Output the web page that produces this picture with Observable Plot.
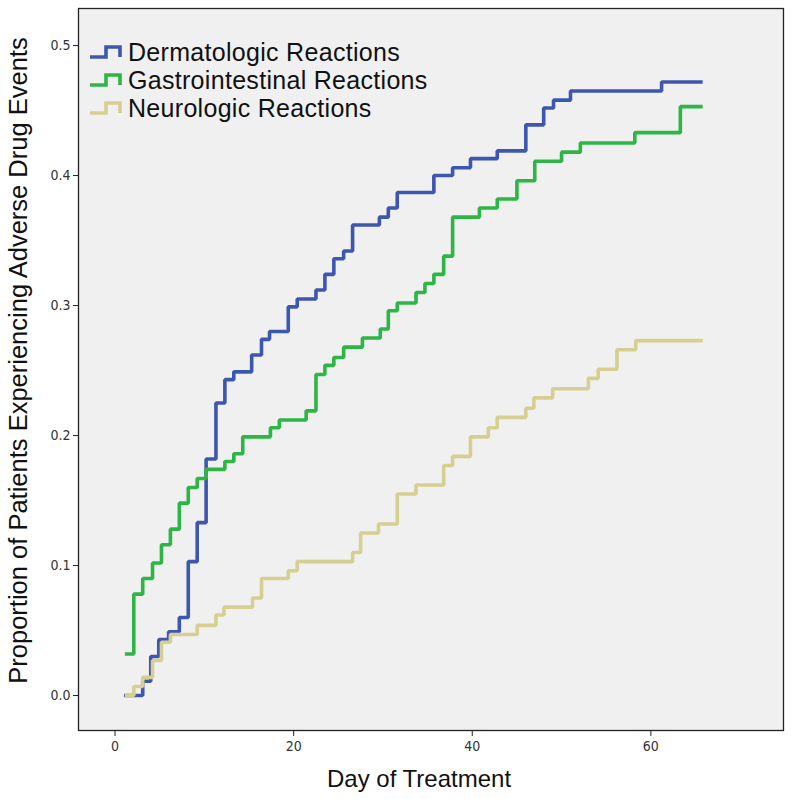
<!DOCTYPE html>
<html><head><meta charset="utf-8">
<script src="https://cdn.jsdelivr.net/npm/d3@7"></script>
<script src="https://cdn.jsdelivr.net/npm/@observablehq/plot@0.6"></script>
<style>
body{margin:0;background:#fff;}
#wrap{position:relative;width:797px;height:799px;}
#legend{position:absolute;left:88px;top:38px;font-family:Arial,"Liberation Sans",sans-serif;font-size:25px;letter-spacing:0.3px;color:#111;}
#legend .row{display:flex;align-items:center;height:28px;white-space:nowrap;}
#legend svg{margin-right:6px;}
</style></head><body><div id="wrap"><div id="legend"></div></div>
<script>
const seriesNames = ["Dermatologic Reactions", "Gastrointestinal Reactions", "Neurologic Reactions"];
const seriesColors = ["#3e57ae", "#2db546", "#d5cf90"];
const endDay = 65.8;

const dermDays = [1.0, 3.1, 4.0, 4.9, 6.0, 7.2, 8.2, 9.2, 10.2, 11.3, 12.3, 13.3, 15.3, 16.4, 17.3, 19.4, 20.4, 22.5, 23.5, 24.5, 25.6, 26.6, 29.6, 30.6, 31.6, 35.7, 37.8, 39.8, 42.8, 46.0, 48.0, 49.1, 51.0, 61.2];
const dermVals = [0.0, 0.011, 0.030, 0.043, 0.049, 0.060, 0.103, 0.133, 0.182, 0.225, 0.243, 0.249, 0.262, 0.274, 0.280, 0.299, 0.305, 0.312, 0.324, 0.336, 0.342, 0.362, 0.368, 0.375, 0.387, 0.400, 0.406, 0.413, 0.419, 0.439, 0.452, 0.458, 0.465, 0.472];

const gastroDays = [1.1, 2.1, 3.1, 4.2, 5.2, 6.2, 7.2, 8.2, 9.2, 10.2, 12.3, 13.3, 14.3, 17.4, 18.4, 21.4, 22.5, 23.5, 24.5, 25.6, 27.7, 29.7, 30.6, 31.6, 33.7, 34.7, 35.7, 36.8, 37.8, 40.8, 42.8, 45.0, 47.0, 50.0, 52.1, 58.2, 63.3];
const gastroVals = [0.032, 0.078, 0.090, 0.102, 0.116, 0.128, 0.148, 0.160, 0.167, 0.174, 0.180, 0.186, 0.199, 0.206, 0.212, 0.219, 0.247, 0.254, 0.260, 0.268, 0.275, 0.282, 0.296, 0.302, 0.310, 0.317, 0.324, 0.338, 0.368, 0.375, 0.382, 0.396, 0.411, 0.418, 0.425, 0.433, 0.453];

const neuroDays = [1.1, 2.1, 3.1, 4.2, 5.2, 6.2, 9.2, 11.3, 12.2, 15.4, 16.4, 19.4, 20.4, 26.6, 27.5, 29.5, 31.6, 33.7, 36.8, 37.8, 39.8, 41.8, 42.8, 46.0, 46.9, 49.0, 53.0, 54.1, 56.2, 58.3];
const neuroVals = [0.0, 0.007, 0.014, 0.027, 0.041, 0.047, 0.054, 0.062, 0.068, 0.075, 0.090, 0.096, 0.103, 0.110, 0.125, 0.132, 0.155, 0.162, 0.177, 0.184, 0.199, 0.206, 0.214, 0.221, 0.229, 0.236, 0.244, 0.251, 0.266, 0.273];

const xTicks = [0, 20, 40, 60];
const yTicks = [0.0, 0.1, 0.2, 0.3, 0.4, 0.5];
const xTitle = "Day of Treatment";
const yTitle = "Proportion of Patients Experiencing Adverse Drug Events";

function build(name, days, vals) {
  const rows = days.map((d, i) => ({series: name, day: d, value: vals[i]}));
  rows.push({series: name, day: endDay, value: vals[vals.length - 1]});
  return rows;
}
const rows = [
  ...build(seriesNames[0], dermDays, dermVals),
  ...build(seriesNames[1], gastroDays, gastroVals),
  ...build(seriesNames[2], neuroDays, neuroVals)
];

const tickFont = "'Liberation Sans Narrow', 'Arial Narrow', 'DejaVu Sans Condensed', Arial, sans-serif";
const titleFont = "Arial, 'Liberation Sans', sans-serif";

const chart = Plot.plot({
  width: 797, height: 799,
  marginLeft: 78, marginRight: 14, marginTop: 8, marginBottom: 69,
  style: {background: "white", fontFamily: tickFont, fontSize: "14px", color: "#333"},
  x: {domain: [-4.09, 74.85]},
  y: {domain: [-0.0269, 0.5285]},
  color: {domain: seriesNames, range: seriesColors},
  marks: [
    Plot.frame({fill: "#f0f0f0"}),
    Plot.line(rows, {x: "day", y: "value", z: "series", stroke: "series", curve: "step-after", strokeWidth: 3.6, strokeLinejoin: "miter", strokeLinecap: "butt"}),
    Plot.frame({stroke: "#222", strokeWidth: 1.3}),
    Plot.axisX({ticks: xTicks, tickFormat: d => String(d), tickSize: 6, tickPadding: 5, label: null, stroke: "#222", fill: "#333"}),
    Plot.axisY({ticks: yTicks, tickFormat: d3.format(".1f"), tickSize: 5, tickPadding: 3, label: null, stroke: "#222", fill: "#333"}),
    Plot.text([xTitle], {frameAnchor: "bottom", dy: 56, dx: -12, fontSize: 24, fontFamily: titleFont, fill: "#111"}),
    Plot.text([yTitle], {frameAnchor: "left", textAnchor: "middle", rotate: -90, dx: -60, dy: -9, fontSize: 25.5, fontFamily: titleFont, fill: "#111"})
  ]
});
document.getElementById("wrap").prepend(chart);
chart.style.position = "absolute";
chart.style.left = "0";
chart.style.top = "0";

const legend = document.getElementById("legend");
seriesNames.forEach((name, i) => {
  const row = document.createElement("div");
  row.className = "row";
  row.innerHTML = `<svg width="34" height="16"><path d="M2 13 H18 V3 H32 V13" fill="none" stroke="${seriesColors[i]}" stroke-width="3.6"/></svg><span>${name}</span>`;
  legend.appendChild(row);
});
</script></body></html>
